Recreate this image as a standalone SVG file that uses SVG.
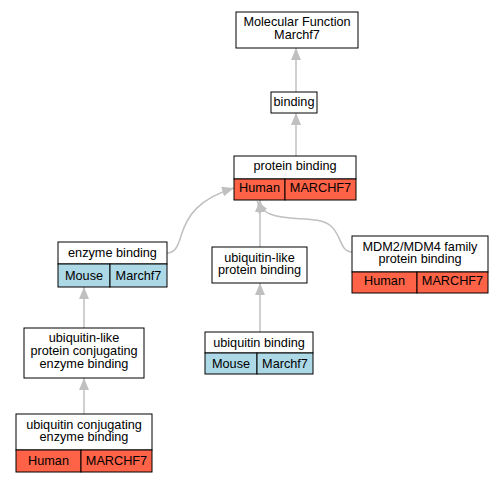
<svg xmlns="http://www.w3.org/2000/svg" width="504" height="483" viewBox="0 0 504 483">
<style>
text{font-family:"Liberation Sans",Arial,sans-serif;font-size:12.7px;text-anchor:middle;fill:#000}
.b{fill:#fff;stroke:#000;stroke-width:1}
.h{fill:#ff6347;stroke:#000;stroke-width:1}
.m{fill:#add8e6;stroke:#000;stroke-width:1}
.e{fill:none;stroke:#c0c0c0;stroke-width:1.5;marker-end:url(#a)}
</style>
<defs>
<marker id="a" markerUnits="userSpaceOnUse" markerWidth="12" markerHeight="10" refX="12" refY="5" orient="auto">
<path d="M0,0 L12,5 L0,10 z" fill="#c0c0c0"/>
</marker>
</defs>
<rect width="504" height="483" fill="#fff"/>
<g id="edges">
<path class="e" d="M296,92 L296,48"/>
<path class="e" d="M296,156 L296,113"/>
<path class="e" d="M260,247 L260,200"/>
<path class="e" d="M260,332 L260,283"/>
<path class="e" d="M84,328 L84,287"/>
<path class="e" d="M84,414 L84,378"/>
<path class="e" d="M167,253 C175,253 178,246 181,236 C187,216 198,199 234,188"/>
<path class="e" d="M352,252 C340,252 342,236 331,226 C318,215 290,222 270,214 C265,212 261,208 257,201"/>
</g>
<g id="n1">
<rect class="b" x="236" y="12" width="122" height="36"/>
<text x="297" y="26">Molecular Function</text>
<text x="297" y="38.5">Marchf7</text>
</g>
<g id="n2">
<rect class="b" x="271" y="92" width="46" height="21"/>
<text x="294" y="106">binding</text>
</g>
<g id="n3">
<rect class="b" x="234" y="156" width="122" height="23"/>
<rect class="h" x="234" y="179" width="51" height="21"/>
<rect class="h" x="285" y="179" width="71" height="21"/>
<text x="295" y="169.5">protein binding</text>
<text x="259.5" y="191.5">Human</text>
<text x="320.5" y="191.5">MARCHF7</text>
</g>
<g id="n4">
<rect class="b" x="58" y="242" width="109" height="22"/>
<rect class="m" x="58" y="264" width="52" height="23"/>
<rect class="m" x="110" y="264" width="57" height="23"/>
<text x="112.5" y="257">enzyme binding</text>
<text x="84" y="280">Mouse</text>
<text x="138.5" y="280">Marchf7</text>
</g>
<g id="n5">
<rect class="b" x="212" y="247" width="95" height="36"/>
<text x="259.5" y="261.5">ubiquitin-like</text>
<text x="259.5" y="274">protein binding</text>
</g>
<g id="n6">
<rect class="b" x="352" y="236" width="136" height="36"/>
<rect class="h" x="352" y="272" width="65" height="21"/>
<rect class="h" x="417" y="272" width="71" height="21"/>
<text x="420" y="250.5">MDM2/MDM4 family</text>
<text x="420" y="263">protein binding</text>
<text x="384.5" y="284.5">Human</text>
<text x="452.5" y="284.5">MARCHF7</text>
</g>
<g id="n7">
<rect class="b" x="24" y="328" width="120" height="50"/>
<text x="84" y="342">ubiquitin-like</text>
<text x="84" y="355">protein conjugating</text>
<text x="84" y="368">enzyme binding</text>
</g>
<g id="n8">
<rect class="b" x="205" y="332" width="108" height="21"/>
<rect class="m" x="205" y="353" width="52" height="21"/>
<rect class="m" x="257" y="353" width="56" height="21"/>
<text x="259" y="347">ubiquitin binding</text>
<text x="231" y="368">Mouse</text>
<text x="285" y="368">Marchf7</text>
</g>
<g id="n9">
<rect class="b" x="16" y="414" width="136" height="36"/>
<rect class="h" x="16" y="450" width="65" height="22"/>
<rect class="h" x="81" y="450" width="71" height="22"/>
<text x="84" y="428.5">ubiquitin conjugating</text>
<text x="84" y="441">enzyme binding</text>
<text x="48.5" y="464.5">Human</text>
<text x="116.5" y="464.5">MARCHF7</text>
</g>
</svg>
